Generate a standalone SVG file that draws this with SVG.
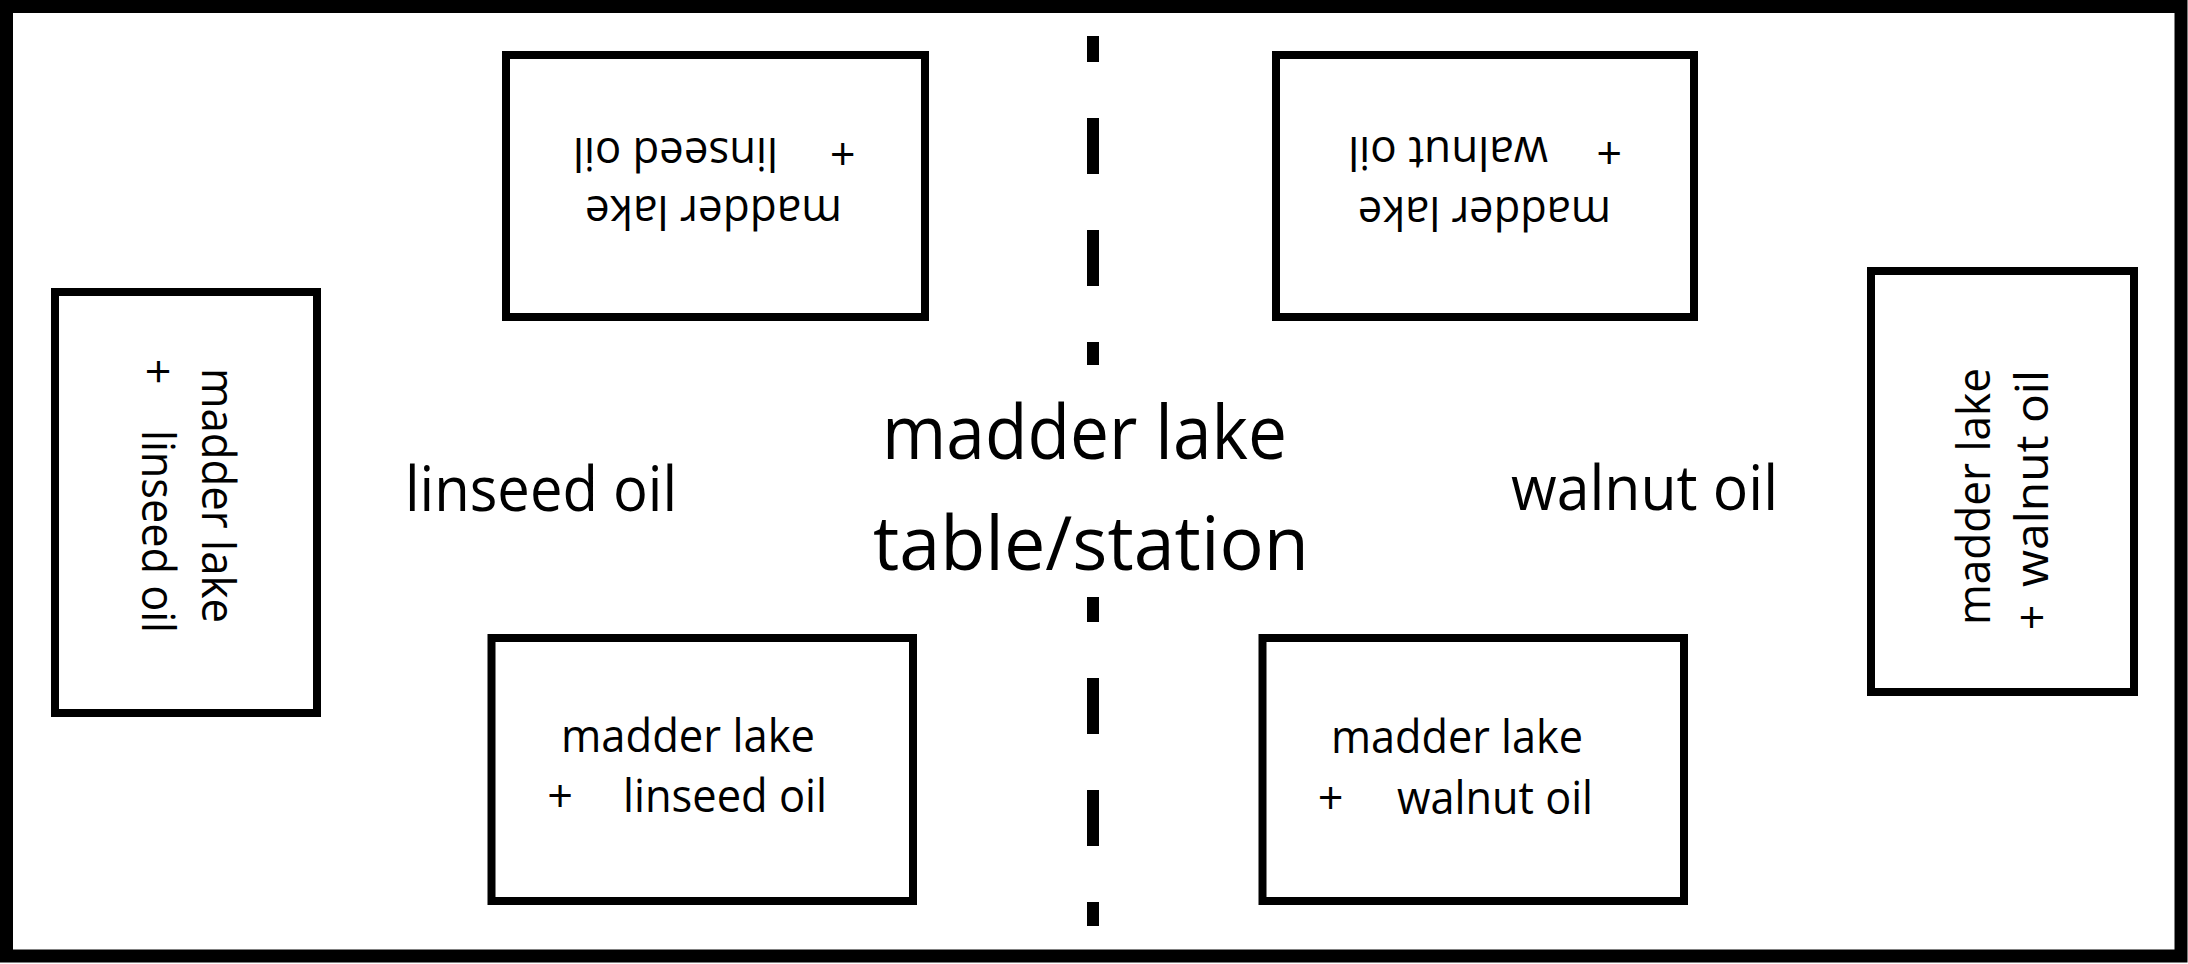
<svg xmlns="http://www.w3.org/2000/svg" width="2188" height="964" viewBox="0 0 2188 964">
<style>
.box{fill:#fff;stroke:#000;stroke-width:8}
.t{font-family:"Open Sans","Noto Sans",sans-serif;fill:#000}
.bt{font-size:45px}
.title{font-size:75px}
.side{font-size:62px}
.dash{stroke:#000;stroke-width:12;stroke-dasharray:56 56}
</style>
<rect x="0" y="0" width="2188" height="964" fill="#fff"/>
<rect id="frame" x="6.5" y="6.5" width="2174.5" height="949.5" fill="none" stroke="#000" stroke-width="13"/>
<g id="divider">
<line class="dash" x1="1093" y1="36" x2="1093" y2="365" stroke-dashoffset="30"/>
<line class="dash" x1="1093" y1="597" x2="1093" y2="926" stroke-dashoffset="31"/>
</g>
<g id="center-label">
<text class="t title" x="882" y="459" textLength="405" lengthAdjust="spacingAndGlyphs">madder lake</text>
<text class="t title" x="873" y="570" textLength="436" lengthAdjust="spacingAndGlyphs">table/station</text>
</g>
<g id="label-linseed">
<text class="t side" x="405" y="511" textLength="272" lengthAdjust="spacingAndGlyphs">linseed oil</text>
</g>
<g id="label-walnut">
<text class="t side" x="1511" y="510" textLength="267" lengthAdjust="spacingAndGlyphs">walnut oil</text>
</g>
<g id="box-top-left">
<rect class="box" x="506" y="55" width="419" height="262"/>
<g transform="rotate(180 715.5 186)">
<text class="t bt" x="589" y="176" textLength="257" lengthAdjust="spacingAndGlyphs">madder lake</text>
<text class="t bt" x="588.5" y="234" text-anchor="middle">+</text>
<text class="t bt" x="653" y="234" textLength="205" lengthAdjust="spacingAndGlyphs">linseed oil</text>
</g>
</g>
<g id="box-top-right">
<rect class="box" x="1276" y="55" width="418" height="262"/>
<g transform="rotate(180 1485 186)">
<text class="t bt" x="1359" y="175" textLength="253" lengthAdjust="spacingAndGlyphs">madder lake</text>
<text class="t bt" x="1361" y="235" text-anchor="middle">+</text>
<text class="t bt" x="1422" y="235" textLength="200" lengthAdjust="spacingAndGlyphs">walnut oil</text>
</g>
</g>
<g id="box-left">
<rect class="box" x="55" y="292" width="262" height="421"/>
<text class="t bt" transform="translate(202 368) rotate(90)" x="0" y="0" textLength="255" lengthAdjust="spacingAndGlyphs">madder lake</text>
<text class="t bt" transform="translate(142 371.5) rotate(90)" x="0" y="0" text-anchor="middle">+</text>
<text class="t bt" transform="translate(142 430) rotate(90)" x="0" y="0" textLength="203" lengthAdjust="spacingAndGlyphs">linseed oil</text>
</g>
<g id="box-right">
<rect class="box" x="1871" y="271" width="263" height="421"/>
<text class="t bt" transform="translate(1990 625) rotate(-90)" x="0" y="0" textLength="257" lengthAdjust="spacingAndGlyphs">madder lake</text>
<text class="t bt" transform="translate(2048 617.5) rotate(-90)" x="0" y="0" text-anchor="middle">+</text>
<text class="t bt" transform="translate(2048 587) rotate(-90)" x="0" y="0" textLength="217" lengthAdjust="spacingAndGlyphs">walnut oil</text>
</g>
<g id="box-bottom-left">
<rect class="box" x="491.5" y="638" width="421.5" height="263"/>
<text class="t bt" x="561" y="752" textLength="254" lengthAdjust="spacingAndGlyphs">madder lake</text>
<text class="t bt" x="560" y="812" text-anchor="middle">+</text>
<text class="t bt" x="623" y="812" textLength="204" lengthAdjust="spacingAndGlyphs">linseed oil</text>
</g>
<g id="box-bottom-right">
<rect class="box" x="1262.5" y="638" width="421.5" height="263"/>
<text class="t bt" x="1331" y="753" textLength="252" lengthAdjust="spacingAndGlyphs">madder lake</text>
<text class="t bt" x="1330.5" y="814" text-anchor="middle">+</text>
<text class="t bt" x="1397" y="814" textLength="196" lengthAdjust="spacingAndGlyphs">walnut oil</text>
</g>
</svg>
